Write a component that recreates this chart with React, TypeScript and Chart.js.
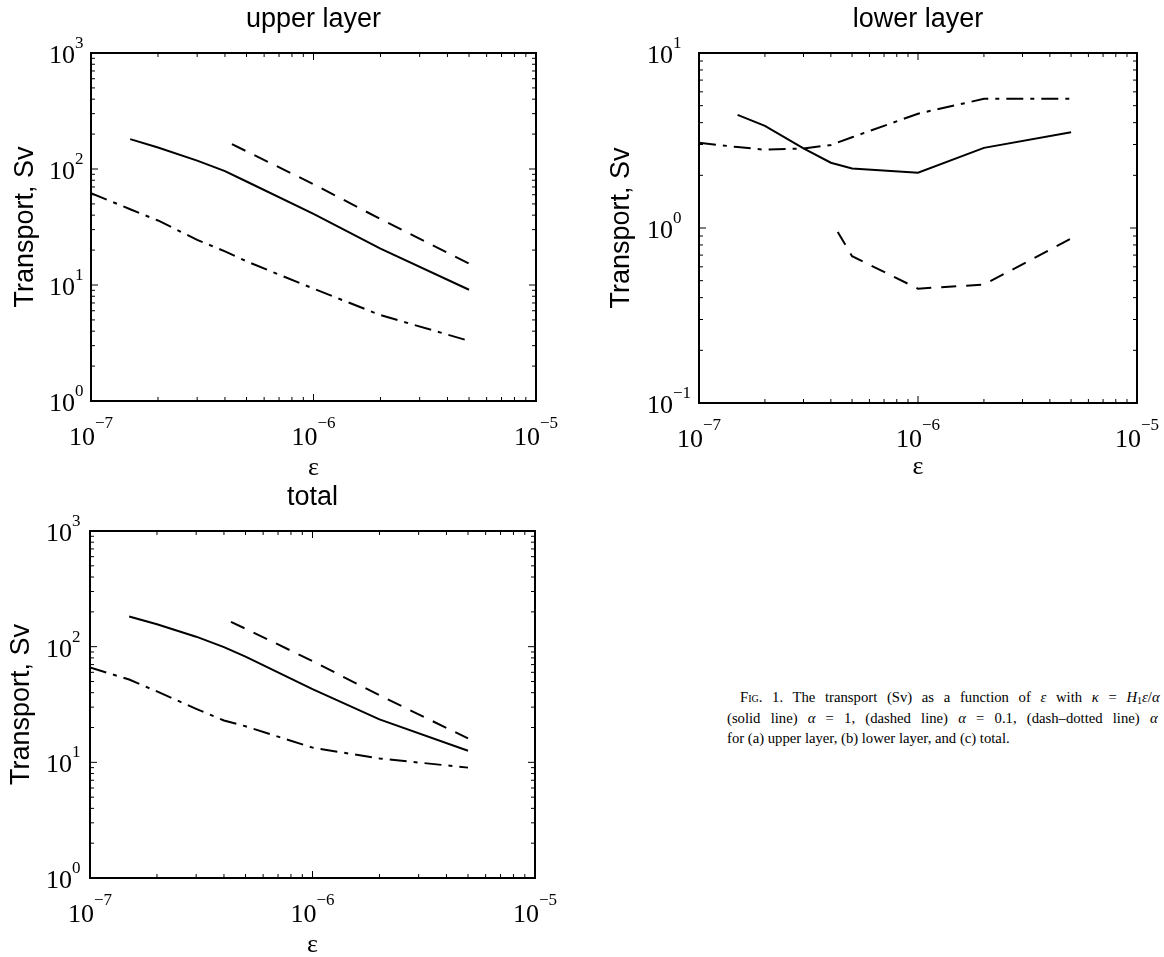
import React, { useEffect, useRef } from "react";
import { Chart, registerables } from "chart.js";

Chart.register(...registerables);

// ---- tick labels (exponents of 10) ----
const xTickExps = [-7, -6, -5];
const upperYTickExps = [0, 1, 2, 3];
const lowerYTickExps = [-1, 0, 1];
const totalYTickExps = [0, 1, 2, 3];

// ---- epsilon values for each curve ----
const epsSolid = [1.5e-7, 2e-7, 3e-7, 4e-7, 5e-7, 1e-6, 2e-6, 5e-6];
const epsDashed = [4.3e-7, 5e-7, 1e-6, 2e-6, 5e-6];
const epsDashDot = [1e-7, 1.5e-7, 2e-7, 3e-7, 4e-7, 5e-7, 1e-6, 2e-6, 5e-6];

// ---- upper layer transport (Sv) ----
const upperSolid = [181, 153, 118, 96, 78, 41, 20.6, 9.1];
const upperDashed = [164, 142, 74, 37, 15.3];
const upperDashDot = [62, 45, 36, 24.5, 19.5, 16, 9.3, 5.5, 3.3];

// ---- lower layer transport (Sv) ----
const lowerSolid = [4.43, 3.83, 2.85, 2.36, 2.19, 2.07, 2.87, 3.52];
const lowerDashed = [0.95, 0.69, 0.45, 0.475, 0.87];
const lowerDashDot = [3.07, 2.9, 2.8, 2.85, 2.98, 3.3, 4.5, 5.47, 5.47];

// ---- total transport (Sv) ----
const totalSolid = [182, 156, 122, 99, 82, 43, 23.5, 12.6];
const totalDashed = [164, 143, 75, 38, 16.1];
const totalDashDot = [66, 52, 41, 29, 23, 20.5, 13.4, 10.8, 9.0];

const SERIF = '"Liberation Serif", "Times New Roman", serif';
const SANS = '"Liberation Sans", Arial, Helvetica, sans-serif';

type PanelCfg = {
  left: number;
  top: number;
  width: number;
  height: number;
  pad: { left: number; top: number; right: number; bottom: number };
  yMin: number;
  yMax: number;
  yExps: number[];
  title: string;
  solid: number[];
  dashed: number[];
  dashDot: number[];
  yLabelGap: number;
  yTitleX: number;
  xTitleOffset: number;
};

const toPts = (xs: number[], ys: number[]) => xs.map((x, i) => ({ x, y: ys[i] }));

function makeAxesPlugin(cfg: PanelCfg) {
  return {
    id: "matlabAxes",
    afterDraw(chart: any) {
      const { ctx, chartArea: a, scales } = chart;
      const xs = scales.x;
      const ys = scales.y;
      ctx.save();
      ctx.strokeStyle = "#000";
      ctx.fillStyle = "#000";
      ctx.lineWidth = 1;

      // x ticks (bottom and top, pointing inward)
      const x0 = Math.round(Math.log10(xs.min));
      const x1 = Math.round(Math.log10(xs.max));
      for (let e = x0; e < x1; e++) {
        for (let m = 1; m <= 9; m++) {
          const v = m * Math.pow(10, e);
          const px = xs.getPixelForValue(v);
          const len = m === 1 ? 7 : 4;
          ctx.beginPath();
          ctx.moveTo(px, a.bottom);
          ctx.lineTo(px, a.bottom - len);
          ctx.moveTo(px, a.top);
          ctx.lineTo(px, a.top + len);
          ctx.stroke();
        }
      }
      // y ticks (left and right, pointing inward)
      const y0 = Math.round(Math.log10(ys.min));
      const y1 = Math.round(Math.log10(ys.max));
      for (let e = y0; e < y1; e++) {
        for (let m = 1; m <= 9; m++) {
          const v = m * Math.pow(10, e);
          const py = ys.getPixelForValue(v);
          const len = m === 1 ? 7 : 4;
          ctx.beginPath();
          ctx.moveTo(a.left, py);
          ctx.lineTo(a.left + len, py);
          ctx.moveTo(a.right, py);
          ctx.lineTo(a.right - len, py);
          ctx.stroke();
        }
      }

      // frame
      ctx.lineWidth = 2;
      ctx.strokeRect(a.left, a.top, a.right - a.left, a.bottom - a.top);

      const baseFont = `26px ${SERIF}`;
      const expFont = `17px ${SERIF}`;
      const expStr = (e: number) => (e < 0 ? "\u2212" + String(-e) : String(e));

      // x tick labels
      ctx.textBaseline = "alphabetic";
      ctx.textAlign = "left";
      xTickExps.forEach((e) => {
        const px = xs.getPixelForValue(Math.pow(10, e));
        ctx.font = baseFont;
        const wb = ctx.measureText("10").width;
        ctx.font = expFont;
        const we = ctx.measureText(expStr(e)).width;
        const start = px - (wb + we) / 2;
        ctx.font = baseFont;
        ctx.fillText("10", start, a.bottom + 44);
        ctx.font = expFont;
        ctx.fillText(expStr(e), start + wb, a.bottom + 27);
      });

      // y tick labels
      cfg.yExps.forEach((e) => {
        const py = ys.getPixelForValue(Math.pow(10, e));
        const xr = a.left - cfg.yLabelGap;
        ctx.font = baseFont;
        ctx.textAlign = "right";
        ctx.fillText("10", xr, py + 10);
        ctx.font = expFont;
        ctx.textAlign = "left";
        ctx.fillText(expStr(e), xr, py - 5);
      });

      // title
      ctx.font = `27px ${SANS}`;
      ctx.textAlign = "center";
      ctx.fillText(cfg.title, (a.left + a.right) / 2, a.top - 26);

      // x axis title
      ctx.font = `26px ${SERIF}`;
      ctx.fillText("\u03b5", (a.left + a.right) / 2, a.bottom + cfg.xTitleOffset);

      // y axis title
      ctx.save();
      ctx.translate(cfg.yTitleX, (a.top + a.bottom) / 2);
      ctx.rotate(-Math.PI / 2);
      ctx.font = `27px ${SANS}`;
      ctx.textAlign = "center";
      ctx.fillText("Transport, Sv", 0, 0);
      ctx.restore();

      ctx.restore();
    },
  };
}

function Panel({ cfg }: { cfg: PanelCfg }) {
  const ref = useRef<HTMLCanvasElement | null>(null);
  useEffect(() => {
    if (!ref.current) return;
    const line = (data: any[], dash: number[]) => ({
      data,
      borderColor: "#000",
      backgroundColor: "#000",
      borderWidth: 2,
      borderDash: dash,
      pointRadius: 0,
      tension: 0,
      fill: false,
    });
    const chart = new Chart(ref.current, {
      type: "line",
      data: {
        datasets: [
          line(toPts(epsSolid, cfg.solid), []),
          line(toPts(epsDashed, cfg.dashed), [15, 10]),
          line(toPts(epsDashDot, cfg.dashDot), [17, 7, 4, 7]),
        ],
      },
      options: {
        responsive: false,
        animation: false,
        events: [],
        layout: { padding: cfg.pad },
        scales: {
          x: { type: "logarithmic", min: 1e-7, max: 1e-5, display: false },
          y: { type: "logarithmic", min: cfg.yMin, max: cfg.yMax, display: false },
        },
        plugins: { legend: { display: false }, tooltip: { enabled: false } },
      },
      plugins: [makeAxesPlugin(cfg)],
    } as any);
    return () => chart.destroy();
  }, [cfg]);
  return (
    <canvas
      ref={ref}
      width={cfg.width}
      height={cfg.height}
      style={{ position: "absolute", left: cfg.left, top: cfg.top, display: "block" }}
    />
  );
}

const upperCfg: PanelCfg = {
  left: 0, top: 0, width: 580, height: 480,
  pad: { left: 91, top: 53, right: 44, bottom: 79 },
  yMin: 1, yMax: 1000, yExps: upperYTickExps, title: "upper layer",
  solid: upperSolid, dashed: upperDashed, dashDot: upperDashDot,
  yLabelGap: 16, yTitleX: 33, xTitleOffset: 74,
};
const lowerCfg: PanelCfg = {
  left: 580, top: 0, width: 584, height: 480,
  pad: { left: 119, top: 53, right: 27, bottom: 77 },
  yMin: 0.1, yMax: 10, yExps: lowerYTickExps, title: "lower layer",
  solid: lowerSolid, dashed: lowerDashed, dashDot: lowerDashDot,
  yLabelGap: 26, yTitleX: 49, xTitleOffset: 71,
};
const totalCfg: PanelCfg = {
  left: 0, top: 480, width: 580, height: 477,
  pad: { left: 90, top: 51, right: 45, bottom: 79 },
  yMin: 1, yMax: 1000, yExps: totalYTickExps, title: "total",
  solid: totalSolid, dashed: totalDashed, dashDot: totalDashDot,
  yLabelGap: 18, yTitleX: 29, xTitleOffset: 74,
};

const captionLine: React.CSSProperties = { height: 20.5, lineHeight: "20.5px" };

export default function App() {
  return (
    <div
      style={{
        position: "fixed",
        left: 0,
        top: 0,
        width: 1164,
        height: 957,
        overflow: "hidden",
        background: "#fff",
      }}
    >
      <Panel cfg={upperCfg} />
      <Panel cfg={lowerCfg} />
      <Panel cfg={totalCfg} />
      <div
        style={{
          position: "absolute",
          left: 727,
          top: 687,
          font: `14.7px ${SERIF}`,
          whiteSpace: "nowrap",
          color: "#000",
        }}
      >
        <div style={{ ...captionLine, textIndent: 13, wordSpacing: 6 }}>
          <span style={{ fontVariant: "small-caps" }}>Fig.</span> 1. The transport (Sv) as a function of{" "}
          <i>ε</i> with <i>κ</i> = <i>H</i>
          <sub style={{ fontSize: 10, verticalAlign: "-2px", lineHeight: 0 }}>1</sub>
          <i>ε</i>/<i>α</i>
        </div>
        <div style={{ ...captionLine, wordSpacing: 6.5 }}>
          (solid line) <i>α</i> = 1, (dashed line) <i>α</i> = 0.1, (dash–dotted line) <i>α</i>
        </div>
        <div style={captionLine}>for (a) upper layer, (b) lower layer, and (c) total.</div>
      </div>
    </div>
  );
}
